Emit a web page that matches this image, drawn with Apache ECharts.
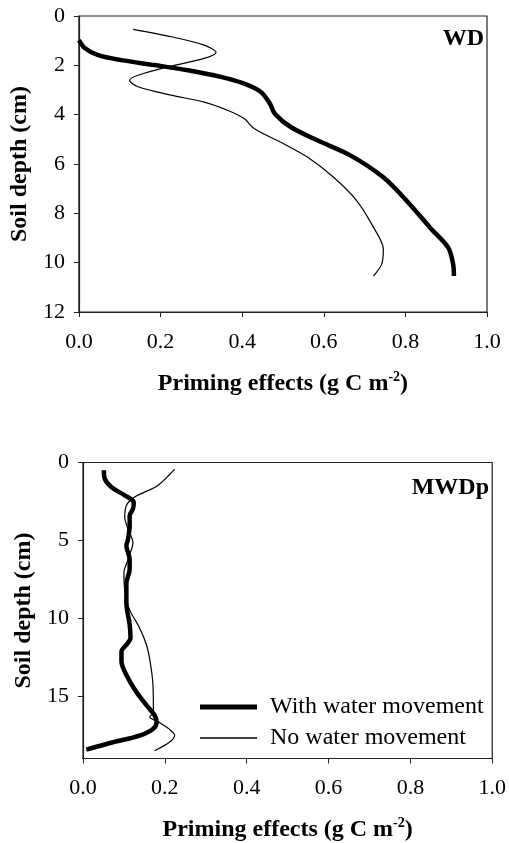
<!DOCTYPE html>
<html>
<head>
<meta charset="utf-8">
<script src="https://cdn.jsdelivr.net/npm/echarts@6/dist/echarts.min.js"></script>
<style>
html,body{margin:0;padding:0;background:#fff;}
#chart{width:509px;height:843px;}
</style>
</head>
<body>
<div id="chart"></div>
<script>
// ---- Data (value = priming effect g C m-2, depth = soil depth cm) ----
const xTicks = [0, 0.2, 0.4, 0.6, 0.8, 1.0];
const wdDepthTicks = [0, 2, 4, 6, 8, 10, 12];
const mwdDepthTicks = [0, 5, 10, 15];

// WD panel
const wdWithValue = [0.000, 0.015, 0.047, 0.104, 0.185, 0.267, 0.348, 0.405, 0.446, 0.468, 0.480, 0.519, 0.584, 0.665, 0.746, 0.803, 0.860, 0.905, 0.917, 0.919];
const wdWithDepth = [0.98, 1.31, 1.59, 1.79, 1.99, 2.20, 2.47, 2.74, 3.08, 3.55, 3.96, 4.50, 5.04, 5.65, 6.54, 7.49, 8.57, 9.39, 10.06, 10.54];
const wdNoValue = [0.133, 0.226, 0.307, 0.336, 0.307, 0.226, 0.145, 0.124, 0.145, 0.226, 0.307, 0.364, 0.405, 0.430, 0.502, 0.560, 0.624, 0.681, 0.722, 0.746, 0.742, 0.722];
const wdNoDepth = [0.54, 0.84, 1.18, 1.48, 1.72, 2.03, 2.40, 2.60, 2.87, 3.21, 3.49, 3.82, 4.16, 4.57, 5.18, 5.72, 6.54, 7.49, 8.57, 9.45, 10.06, 10.54];

// MWDp panel
const mwdWithValue = [0.051, 0.053, 0.069, 0.102, 0.124, 0.122, 0.114, 0.114, 0.110, 0.106, 0.114, 0.114, 0.106, 0.106, 0.114, 0.116, 0.106, 0.094, 0.094, 0.106, 0.130, 0.155, 0.175, 0.180, 0.171, 0.138, 0.073, 0.008];
const mwdWithDepth = [0.49, 1.03, 1.57, 2.11, 2.55, 2.98, 3.41, 4.05, 4.92, 5.35, 6.22, 6.87, 7.73, 9.02, 10.40, 11.27, 11.70, 12.13, 12.78, 13.64, 14.72, 15.58, 16.23, 16.66, 17.10, 17.53, 17.96, 18.43];
const mwdNoValue = [0.224, 0.183, 0.126, 0.106, 0.102, 0.110, 0.122, 0.110, 0.100, 0.102, 0.114, 0.138, 0.155, 0.164, 0.171, 0.172, 0.163, 0.185, 0.210, 0.224, 0.211, 0.175];
const mwdNoDepth = [0.43, 1.47, 2.22, 2.76, 3.52, 4.27, 5.14, 6.22, 7.08, 8.16, 9.46, 10.60, 11.70, 12.78, 14.29, 16.02, 16.34, 16.66, 17.10, 17.53, 17.96, 18.50];

const seriesNames = ['With water movement', 'No water movement'];
const panelLabels = ['WD', 'MWDp'];

function pairs(v, d) { return v.map((x, i) => [x, d[i]]); }

const FONT = '"Liberation Serif", "Times New Roman", serif';
const AX = '#222';

function xAxisCfg(gridIndex) {
  return {
    type: 'value', gridIndex, min: 0, max: 1, interval: 0.2,
    axisLine: { show: true, onZero: false, lineStyle: { color: AX, width: 1.2 } },
    axisTick: { show: true, length: 5, lineStyle: { color: AX } },
    splitLine: { show: false },
    axisLabel: { fontFamily: FONT, fontSize: 22, color: '#000', margin: 19, formatter: v => v.toFixed(1) },
    name: '{a|Priming effects (g C m}{s|-2}{a|)}',
    nameLocation: 'middle', nameGap: 58,
    nameTextStyle: {
      rich: {
        a: { fontFamily: FONT, fontSize: 24, fontWeight: 'bold', color: '#000' },
        s: { fontFamily: FONT, fontSize: 14, fontWeight: 'bold', color: '#000', padding: [0, 0, 13, 0] }
      }
    }
  };
}

function yAxisCfg(gridIndex, max, ticks) {
  return {
    type: 'value', gridIndex, min: 0, max, inverse: true,
    interval: ticks[1] - ticks[0],
    axisLine: { show: true, onZero: false, lineStyle: { color: AX, width: 1.2 } },
    axisTick: { show: true, length: 5, lineStyle: { color: AX }, customValues: ticks },
    splitLine: { show: false },
    axisLabel: { fontFamily: FONT, fontSize: 22, color: '#000', margin: 14, customValues: ticks },
    name: 'Soil depth (cm)', nameLocation: 'middle', nameGap: 38,
    nameTextStyle: { fontFamily: FONT, fontSize: 24, fontWeight: 'bold', color: '#000' }
  };
}

const legendText = { fontFamily: FONT, fontSize: 24, color: '#000', padding: [0, 0, 0, 8] };

const chart = echarts.init(document.getElementById('chart'), null, { renderer: 'canvas' });
chart.setOption({
  backgroundColor: '#fff',
  animation: false,
  color: ['#000'],
  title: [
    { text: panelLabels[0], right: 25, top: 27, textStyle: { fontFamily: FONT, fontSize: 24, fontWeight: 'bold', color: '#000' }, padding: 0 },
    { text: panelLabels[1], right: 20, top: 476, textStyle: { fontFamily: FONT, fontSize: 24, fontWeight: 'bold', color: '#000' }, padding: 0 }
  ],
  legend: [
    { left: 200, top: 695, padding: 0, itemWidth: 57, itemHeight: 5, icon: 'rect',
      data: [seriesNames[0]], itemStyle: { color: '#000' }, textStyle: legendText },
    { left: 200, top: 726, padding: 0, itemWidth: 57, itemHeight: 1.5, icon: 'rect',
      data: [seriesNames[1]], itemStyle: { color: '#000' }, textStyle: legendText }
  ],
  grid: [
    { left: 77, top: 16, width: 410, height: 296, show: true, borderColor: AX, borderWidth: 1.2, backgroundColor: 'transparent' },
    { left: 83, top: 462.5, width: 410, height: 296, show: true, borderColor: AX, borderWidth: 1.2, backgroundColor: 'transparent' }
  ],
  xAxis: [xAxisCfg(0), xAxisCfg(1)],
  yAxis: [yAxisCfg(0, 12, wdDepthTicks), yAxisCfg(1, 19, mwdDepthTicks)],
  series: [
    { name: seriesNames[0], type: 'line', xAxisIndex: 0, yAxisIndex: 0, data: pairs(wdWithValue, wdWithDepth),
      showSymbol: false, symbol: 'none', smooth: 0.3, lineStyle: { color: '#000', width: 4.5 } },
    { name: seriesNames[1], type: 'line', xAxisIndex: 0, yAxisIndex: 0, data: pairs(wdNoValue, wdNoDepth),
      showSymbol: false, symbol: 'none', smooth: 0.3, lineStyle: { color: '#000', width: 1.2 } },
    { name: seriesNames[0], type: 'line', xAxisIndex: 1, yAxisIndex: 1, data: pairs(mwdWithValue, mwdWithDepth),
      showSymbol: false, symbol: 'none', smooth: 0.3, lineStyle: { color: '#000', width: 4.5 } },
    { name: seriesNames[1], type: 'line', xAxisIndex: 1, yAxisIndex: 1, data: pairs(mwdNoValue, mwdNoDepth),
      showSymbol: false, symbol: 'none', smooth: 0.3, lineStyle: { color: '#000', width: 1.2 } }
  ]
});
</script>
</body>
</html>
